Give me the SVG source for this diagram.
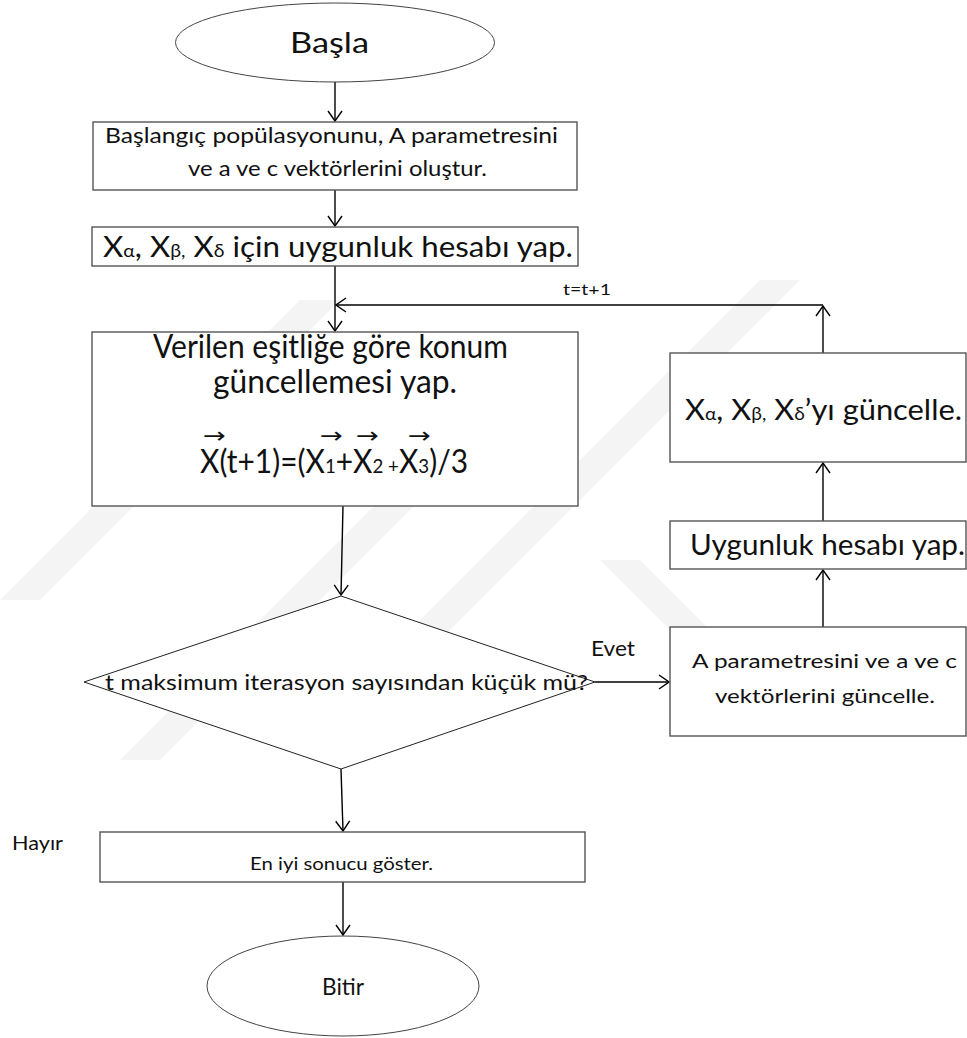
<svg xmlns="http://www.w3.org/2000/svg" width="967" height="1038" viewBox="0 0 967 1038">
  <defs>
    <style>
      .t { font-family: Lato, "Open Sans", "Liberation Sans", sans-serif; fill: #111; }
      .box { fill: #fff; stroke: #555; stroke-width: 1.4; }
      .oval { fill: #fff; stroke: #444; stroke-width: 1; }
      .dia { fill: #fff; stroke: #222; stroke-width: 1; }
      .wire { fill: none; stroke: #000; stroke-width: 1.4; }
      .wm { fill: #f4f4f4; }
      .arr { font-family: "DejaVu Sans", sans-serif; font-size: 22px; fill: #111; }
    </style>
    <marker id="head" viewBox="-11 -8 12 16" markerWidth="12" markerHeight="16" refX="0" refY="0" orient="auto" markerUnits="userSpaceOnUse">
      <path d="M-10,-7 L0,0 L-10,7" fill="none" stroke="#000" stroke-width="1.4"/>
    </marker>
  </defs>

  <rect width="967" height="1038" fill="#fff"/>

  <!-- faint background emblem -->
  <g id="emblem">
    <polygon class="wm" points="0,600 300,300 340,300 40,600"/>
    <polygon class="wm" points="360,680 760,280 800,280 400,680"/>
    <polygon class="wm" points="600,560 640,560 760,680 720,680"/>
    <polygon class="wm" points="120,760 420,460 460,460 160,760"/>
  </g>

  <!-- connectors -->
  <g id="connectors">
    <line class="wire" x1="335" y1="82" x2="335" y2="121" marker-end="url(#head)"/>
    <line class="wire" x1="335" y1="190" x2="335" y2="226" marker-end="url(#head)"/>
    <line class="wire" x1="335" y1="266" x2="335" y2="331" marker-end="url(#head)"/>
    <line class="wire" x1="823" y1="353" x2="823" y2="306" marker-end="url(#head)"/>
    <line class="wire" x1="823" y1="305" x2="336" y2="305" stroke-width="2" marker-end="url(#head)"/>
    <line class="wire" x1="343" y1="506" x2="341" y2="595" marker-end="url(#head)"/>
    <line class="wire" x1="595" y1="682" x2="669" y2="682" marker-end="url(#head)"/>
    <line class="wire" x1="823" y1="627" x2="823" y2="570" marker-end="url(#head)"/>
    <line class="wire" x1="823" y1="521" x2="823" y2="463" marker-end="url(#head)"/>
    <line class="wire" x1="341" y1="769" x2="343" y2="831" marker-end="url(#head)"/>
    <line class="wire" x1="343" y1="882" x2="343" y2="935" marker-end="url(#head)"/>
    <text class="t" x="563" y="295" font-size="15" textLength="48" lengthAdjust="spacingAndGlyphs">t=t+1</text>
    <text class="t" x="591" y="656" font-size="21" textLength="44" lengthAdjust="spacingAndGlyphs">Evet</text>
    <text class="t" x="12" y="850" font-size="20" textLength="51" lengthAdjust="spacingAndGlyphs">Hayır</text>
  </g>

  <!-- start -->
  <g id="start">
    <ellipse class="oval" cx="335" cy="42.5" rx="159.5" ry="39.5"/>
    <text class="t" x="290" y="53" font-size="29" textLength="79" lengthAdjust="spacingAndGlyphs">Başla</text>
  </g>

  <!-- initialisation -->
  <g id="init">
    <rect class="box" x="93" y="122" width="484" height="68"/>
    <text class="t" x="105" y="143" font-size="20.5" textLength="453" lengthAdjust="spacingAndGlyphs">Başlangıç popülasyonunu, A parametresini</text>
    <text class="t" x="188" y="176" font-size="20.5" textLength="299" lengthAdjust="spacingAndGlyphs">ve a ve c vektörlerini oluştur.</text>
  </g>

  <!-- fitness of leaders -->
  <g id="fitness">
    <rect class="box" x="92" y="227" width="486" height="39"/>
    <text class="t" x="103" y="257" font-size="29" textLength="470" lengthAdjust="spacingAndGlyphs">X<tspan font-size="18">α</tspan>, X<tspan font-size="18">β,</tspan> X<tspan font-size="18">δ</tspan> için uygunluk hesabı yap.</text>
  </g>

  <!-- position update -->
  <g id="update">
    <rect class="box" x="92" y="332" width="486" height="174"/>
    <text class="t" x="153" y="358" font-size="32" textLength="355" lengthAdjust="spacingAndGlyphs">Verilen eşitliğe göre konum</text>
    <text class="t" x="213" y="393" font-size="32" textLength="244" lengthAdjust="spacingAndGlyphs">güncellemesi yap.</text>
    <text class="t" x="200" y="473" font-size="32" textLength="268" lengthAdjust="spacingAndGlyphs">X(t+1)=(X<tspan font-size="20">1</tspan>+X<tspan font-size="20">2 +</tspan>X<tspan font-size="20">3</tspan>)/3</text>
    <text class="arr" x="203" y="443" textLength="23" lengthAdjust="spacingAndGlyphs">→</text>
    <text class="arr" x="320" y="443" textLength="23" lengthAdjust="spacingAndGlyphs">→</text>
    <text class="arr" x="356" y="443" textLength="23" lengthAdjust="spacingAndGlyphs">→</text>
    <text class="arr" x="408" y="443" textLength="23" lengthAdjust="spacingAndGlyphs">→</text>
  </g>

  <!-- loop test -->
  <g id="decision">
    <polygon class="dia" points="341,596 595,682 341,769 84,682"/>
    <text class="t" x="105" y="690" font-size="22" textLength="483" lengthAdjust="spacingAndGlyphs">t maksimum iterasyon sayısından küçük mü?</text>
  </g>

  <!-- coefficient update -->
  <g id="coeffs">
    <rect class="box" x="670" y="627" width="296" height="109"/>
    <text class="t" x="692" y="668" font-size="18.5" textLength="265" lengthAdjust="spacingAndGlyphs">A parametresini ve a ve c</text>
    <text class="t" x="715" y="703" font-size="18.5" textLength="220" lengthAdjust="spacingAndGlyphs">vektörlerini güncelle.</text>
  </g>

  <!-- fitness -->
  <g id="fitness2">
    <rect class="box" x="670" y="521" width="296" height="48"/>
    <text class="t" x="690" y="555" font-size="28" textLength="275" lengthAdjust="spacingAndGlyphs">Uygunluk hesabı yap.</text>
  </g>

  <!-- leader update -->
  <g id="leaders">
    <rect class="box" x="670" y="353" width="296" height="109"/>
    <text class="t" x="685" y="420" font-size="29" textLength="277" lengthAdjust="spacingAndGlyphs">X<tspan font-size="18">α</tspan>, X<tspan font-size="18">β,</tspan> X<tspan font-size="18">δ</tspan>’yı güncelle.</text>
  </g>

  <!-- result -->
  <g id="result">
    <rect class="box" x="100" y="832" width="485" height="50"/>
    <text class="t" x="250" y="870" font-size="18" textLength="183" lengthAdjust="spacingAndGlyphs">En iyi sonucu göster.</text>
  </g>

  <!-- end -->
  <g id="end">
    <ellipse class="oval" cx="343" cy="986" rx="136" ry="50"/>
    <text class="t" x="322" y="995" font-size="23" textLength="42" lengthAdjust="spacingAndGlyphs">Bitir</text>
  </g>
</svg>
